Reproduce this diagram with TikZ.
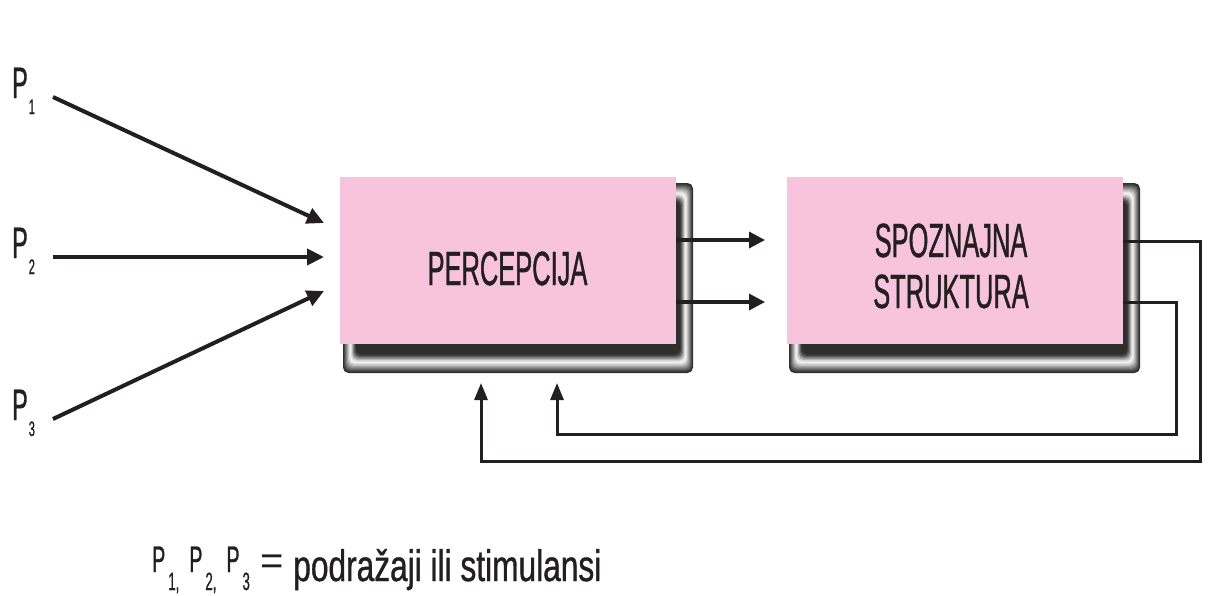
\documentclass[tikz,border=0pt]{standalone}
\usepackage{fontspec}
\setmainfont{Liberation Sans}
\newfontfamily\boxfont{Liberation Sans}[FakeStretch=0.53,FakeBold=0.8]
\newfontfamily\legfont{Liberation Sans}[FakeStretch=0.72,FakeBold=0.8]
\newfontfamily\eqfont{Liberation Sans}
\usetikzlibrary{arrows.meta}
\definecolor{pinkbox}{RGB}{248,196,221}
\definecolor{ink}{RGB}{35,31,32}
\newcommand\bevelframe[4]{%
  \foreach \c [count=\i from 0] in {82,72,60,48,36,24,12,5,15,30,48,64,76,82}{%
    \fill[black!\c,rounded corners=5.5pt] ({#1+\i*1},{#2+\i*1.43}) rectangle ({#3-\i*1},{#4-\i*1.43});}}
\newcommand\psub[1]{\kern1pt\raisebox{-16pt}{\boxfont\fontsize{21}{21}\selectfont #1}}
\newcommand\lsub[1]{\kern3pt\raisebox{-9pt}{\boxfont\fontsize{25}{25}\selectfont #1}}
\newcommand\lP{\raisebox{9pt}{\boxfont\fontsize{37}{37}\selectfont P}}
\begin{document}
\begin{tikzpicture}[x=1pt,y=-1pt,line join=miter,
  box/.style={fill=pinkbox,draw=none,minimum width=336pt,minimum height=167pt,inner sep=0pt},
  boxtext/.style={text=ink,inner sep=0pt,font=\boxfont\fontsize{48}{51}\selectfont},
  plabel/.style={text=ink,inner sep=0pt,font=\boxfont\fontsize{44}{44}\selectfont},
  inarrow/.style={draw=ink,line width=4pt,-{Triangle[length=17pt,width=16pt]}},
  midarrow/.style={draw=ink,line width=3.4pt,-{Triangle[length=16pt,width=16pt]}},
  fbarrow/.style={draw=ink,line width=3pt,-{Triangle[length=17pt,width=13pt]}}]
\useasboundingbox (0,0) rectangle (1209,595);
\fill[white] (0,0) rectangle (1209,595);
% frames
\bevelframe{343}{183}{693}{373}
\bevelframe{789}{183}{1140}{373}
% boxes
\node[box] (perc) at (508,260.5) {};
\node[box] (spoz) at (955,260.5) {};
\node[boxtext,anchor=base] (perctext) at (507.5,285) {PERCEPCIJA};
\node[boxtext,anchor=base] (spoztext1) at (951,257) {SPOZNAJNA};
\node[boxtext,anchor=base] (spoztext2) at (951,308) {STRUKTURA};
% stimulus labels
\node[plabel,anchor=base west] (p1) at (12,98) {P\psub{1}};
\node[plabel,anchor=base west] (p2) at (12,258) {P\psub{2}};
\node[plabel,anchor=base west] (p3) at (12,420) {P\psub{3}};
% input arrows
\coordinate (i1s) at (53,97);  \coordinate (i1e) at (324,223);
\coordinate (i2s) at (53,257); \coordinate (i2e) at (324,257);
\coordinate (i3s) at (53,419); \coordinate (i3e) at (324,291);
\draw[inarrow] (i1s) -- (i1e);
\draw[inarrow] (i2s) -- (i2e);
\draw[inarrow] (i3s) -- (i3e);
% arrows between boxes
\coordinate (m1) at (765,240);
\coordinate (m2) at (765,302);
\draw[midarrow] (perc.east |- m1) -- (m1);
\draw[midarrow] (perc.east |- m2) -- (m2);
% feedback loops
\coordinate (f1a) at (1200,241); \coordinate (f1b) at (1200,461);
\coordinate (f1c) at (481,461);  \coordinate (f1d) at (481,383);
\coordinate (f2a) at (1176,302); \coordinate (f2b) at (1176,434);
\coordinate (f2c) at (557,434);  \coordinate (f2d) at (557,383);
\draw[fbarrow] (spoz.east |- f1a) -- (f1a) -- (f1b) -- (f1c) -- (f1d);
\draw[fbarrow] (spoz.east |- f2a) -- (f2a) -- (f2b) -- (f2c) -- (f2d);
% legend
\node[text=ink,inner sep=0pt,anchor=base west,font=\legfont\fontsize{44}{46}\selectfont] (legend) at (152,581)
  {\lP\lsub{1,}\hspace{10pt}\lP\lsub{2,}\hspace{10pt}\lP\lsub{3}\hspace{11pt}\raisebox{7pt}{\eqfont\fontsize{40}{40}\selectfont =}\hspace{9pt}podražaji ili stimulansi};
\end{tikzpicture}
\end{document}
